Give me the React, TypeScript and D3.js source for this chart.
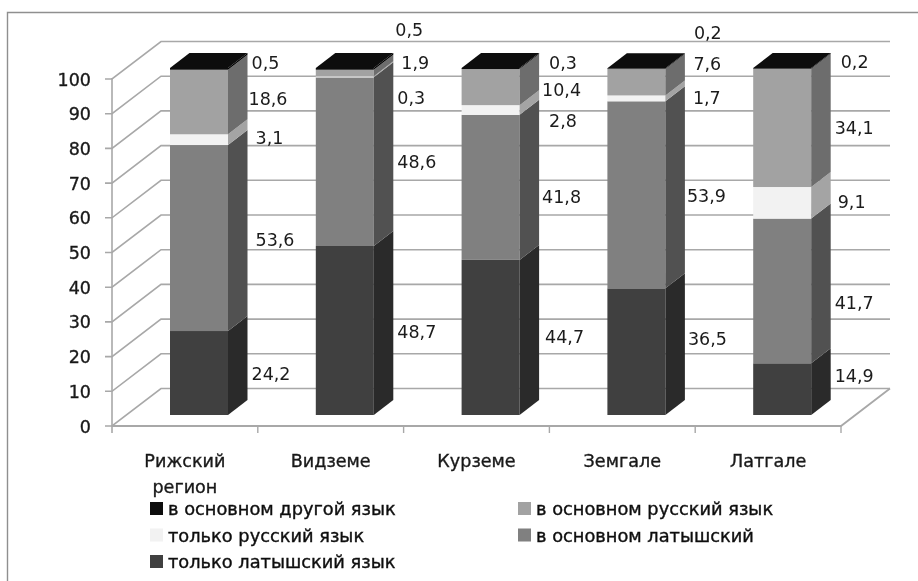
import React from "react";
import * as d3 from "d3";

const categories = ["Рижский регион", "Видземе", "Курземе", "Земгале", "Латгале"];
const onlyLatvian = [24.2, 48.7, 44.7, 36.5, 14.9];
const mostlyLatvian = [53.6, 48.6, 41.8, 53.9, 41.7];
const onlyRussian = [3.1, 0.3, 2.8, 1.7, 9.1];
const mostlyRussian = [18.6, 1.9, 10.4, 7.6, 34.1];
const mostlyOther = [0.5, 0.5, 0.3, 0.2, 0.2];
const seriesValues = [onlyLatvian, mostlyLatvian, onlyRussian, mostlyRussian, mostlyOther];
const yTicks = [0, 10, 20, 30, 40, 50, 60, 70, 80, 90, 100];
const legendLabels = [
  "в основном другой язык",
  "в основном русский язык",
  "только русский язык",
  "в основном латышский",
  "только латышский язык",
];

const FRONT = ["#3f3f3f", "#808080", "#f2f2f2", "#a2a2a2", "#0a0a0a"];
const SIDE = ["#2a2a2a", "#515151", "#a4a4a4", "#6d6d6d", "#050505"];
const LEGEND_SWATCH = ["#0a0a0a", "#a2a2a2", "#f2f2f2", "#808080", "#3f3f3f"];
const GRID = "#a8a8a8";
const FONT = "'DejaVu Sans', sans-serif";

// hand placement of each value label, relative to the middle of its segment's side face [dx, dy]
const LABEL_OFFSETS = [
  [[4, 7.5], [8, 8.5], [8, 5.8], [1, 3.5], [4, 1.6]],
  [[4, 8], [4, 7.6], [4, 28.6], [8, -3.5], [2, -31.4]],
  [[6, 7], [3, 17], [10, 18.5], [3, 10.4], [10, 1]],
  [[3, -5.2], [2, 7.7], [8, 7.1], [8.5, -11.7], [9, -28.9]],
  [[4, -6.6], [4, 18.6], [7, 5.7], [4, 7.6], [10, 1.1]],
];

const depth = { x: 49, y: 37.5 };
const barDepth = { x: 19.5, y: 15 };
const fmt = (v: number) => v.toFixed(1).replace(".", ",");

export default function App() {
  const x = d3.scaleBand<string>().domain(categories).range([112, 841]);
  const yAxis = d3.scaleLinear().domain([0, 100]).range([426, 79]);
  const yBar = d3.scaleLinear().domain([0, 100]).range([415, 68]);
  const rows = categories.map((c, i) => {
    const r: Record<string, number | string> = { c };
    seriesValues.forEach((s, k) => (r["s" + k] = s[i]));
    return r;
  });
  const stacked = d3.stack<any>().keys(seriesValues.map((_, k) => "s" + k))(rows);
  const barX = (c: string) => (x(c) as number) + 58;
  const barW = 58;
  const poly = (pts: number[][]) => pts.map((p) => p.join(",")).join(" ");
  const lastTotal = (i: number) => stacked[stacked.length - 1][i][1];

  return (
    <svg width={918} height={581} style={{ position: "absolute", left: 0, top: 0, background: "#fff" }}>
      <defs>
        <filter id="soft" x="0" y="0" width="100%" height="100%">
          <feGaussianBlur stdDeviation="0.45" />
        </filter>
      </defs>
      <g filter="url(#soft)">
        <rect x={0} y={0} width={918} height={581} fill="#fff" />
        <path d="M7.5,581V12.5H918" fill="none" stroke="#8f8f8f" strokeWidth={1.4} />

        {yTicks.map((t) => (
          <g key={t} stroke={GRID} strokeWidth={1.6} fill="none">
            <path
              d={`M105,${yAxis(t)}H112L${112 + depth.x},${yAxis(t) - depth.y}H${841 + depth.x}`}
            />
          </g>
        ))}
        <path d={`M112,${yAxis(100) - 1}V433`} stroke={GRID} strokeWidth={1.6} fill="none" />
        <path
          d={`M112,${yAxis(0)}H841L${841 + depth.x},${yAxis(0) - depth.y}`}
          stroke={GRID}
          strokeWidth={1.8}
          fill="none"
        />
        {categories.map((c) => (
          <path key={c} d={`M${(x(c) as number) + x.bandwidth()},426V433`} stroke={GRID} strokeWidth={1.4} />
        ))}

        {yTicks.map((t) => (
          <text
            key={t}
            x={91}
            y={yAxis(t) + 6.5}
            textAnchor="end"
            fontFamily={FONT}
            fontSize={17.5}
            fill="#1a1a1a"
            stroke="#1a1a1a"
            strokeWidth={0.35}
          >
            {t}
          </text>
        ))}

        {categories.map((c, i) =>
          stacked.map((layer, k) => {
            const d = layer[i];
            const x0 = barX(c);
            const x1 = x0 + barW;
            const yb = yBar(d[0]);
            const yt = yBar(d[1]);
            return (
              <g key={c + k}>
                <rect x={x0} y={yt} width={barW} height={yb - yt} fill={FRONT[k]} />
                <polygon
                  points={poly([
                    [x1, yb],
                    [x1 + barDepth.x, yb - barDepth.y],
                    [x1 + barDepth.x, yt - barDepth.y],
                    [x1, yt],
                  ])}
                  fill={SIDE[k]}
                />
              </g>
            );
          })
        )}
        {categories.map((c, i) => {
          const x0 = barX(c);
          const yt = yBar(lastTotal(i) > 99.95 ? 100 : lastTotal(i));
          return (
            <polygon
              key={c}
              points={poly([
                [x0, yt],
                [x0 + barW, yt],
                [x0 + barW + barDepth.x, yt - barDepth.y],
                [x0 + barDepth.x, yt - barDepth.y],
              ])}
              fill="#0a0a0a"
            />
          );
        })}

        {categories.map((c, i) =>
          stacked.map((layer, k) => {
            const d = layer[i];
            const mid = (d[0] + d[1]) / 2;
            const [dx, dy] = LABEL_OFFSETS[i][k];
            return (
              <text
                key={c + k}
                x={barX(c) + barW + barDepth.x + dx}
                y={yBar(mid) - barDepth.y / 2 + dy + 6.5}
                fontFamily={FONT}
                fontSize={17.5}
                fill="#1a1a1a"
              >
                {fmt(seriesValues[k][i])}
              </text>
            );
          })
        )}

        {categories.map((c) => {
          const lines = c.split(" ");
          const cx = (x(c) as number) + x.bandwidth() / 2;
          return lines.map((l, j) => (
            <text
              key={l}
              x={cx}
              y={467 + j * 26}
              textAnchor="middle"
              fontFamily={FONT}
              fontSize={17.6}
              fill="#1a1a1a"
              stroke="#1a1a1a"
              strokeWidth={0.35}
            >
              {l}
            </text>
          ));
        })}

        {legendLabels.map((l, i) => {
          const col = i % 2;
          const row = Math.floor(i / 2);
          const sx = col === 0 ? 150 : 518;
          const sy = 502 + row * 26.5;
          return (
            <g key={l}>
              <rect x={sx} y={sy} width={13} height={13} fill={LEGEND_SWATCH[i]} />
              <text
                x={sx + 18}
                y={sy + 13}
                fontFamily={FONT}
                fontSize={17.8}
                fill="#111"
                stroke="#111"
                strokeWidth={0.4}
              >
                {l}
              </text>
            </g>
          );
        })}
      </g>
    </svg>
  );
}
